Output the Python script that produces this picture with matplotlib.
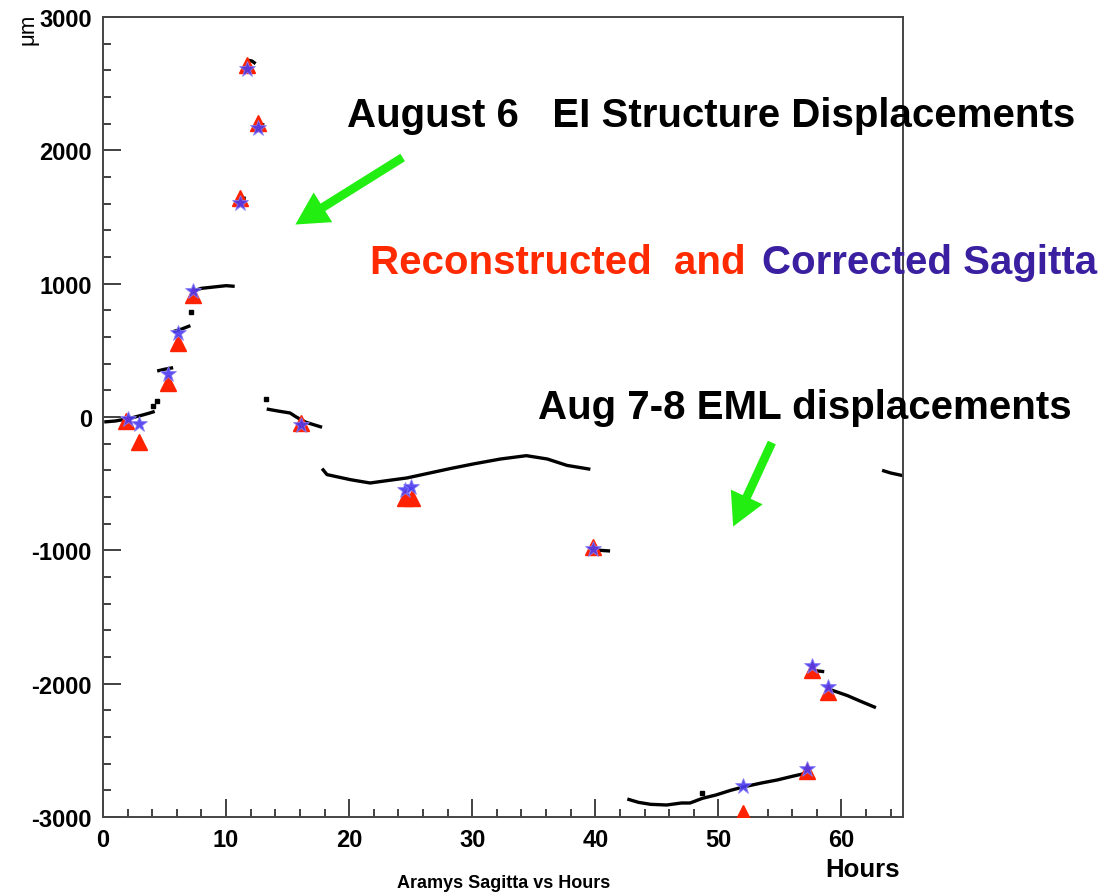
import matplotlib
matplotlib.use("Agg")
import matplotlib.pyplot as plt
from matplotlib.patches import FancyArrowPatch
from matplotlib.ticker import MultipleLocator

plt.rcParams['axes.unicode_minus'] = False

# ---------------- data ----------------
# black monitoring traces (hours, sagitta in micrometres)
seg1_h = [0.1, 1.0, 1.6, 2.4, 3.3, 3.8, 4.2]
seg1_v = [-37, -30, -20, -5, 17, 30, 42]
seg2_h = [4.4, 5.0, 5.7]
seg2_v = [345, 358, 370]
seg3_h = [5.7, 6.4, 7.1]
seg3_v = [640, 660, 685]
seg4_h = [7.3, 8.0, 9.0, 10.0, 10.7]
seg4_v = [945, 965, 975, 985, 980]
seg5_h = [11.0, 11.6]
seg5_v = [1645, 1640]
seg6_h = [11.8, 12.1, 12.4]
seg6_v = [2675, 2670, 2650]
seg7_h = [12.6, 13.1]
seg7_v = [2200, 2190]
seg8_h = [13.3, 14.2, 15.2, 15.7, 16.5, 17.8]
seg8_v = [60, 45, 30, 0, -40, -77]
seg9_h = [17.8, 18.2, 20.1, 21.7, 23.1, 24.7, 26.3, 28.2, 30.1, 32.3, 34.4, 36.1, 37.7, 39.6]
seg9_v = [-387, -432, -470, -495, -477, -457, -425, -387, -352, -315, -290, -315, -363, -392]
seg10_h = [39.6, 40.4, 41.2]
seg10_v = [-990, -1000, -1005]
seg11_h = [42.6, 43.5, 44.5, 45.8, 47.0, 47.7, 48.7, 49.8, 51.0, 52.0, 53.5, 54.8, 56.0, 57.2]
seg11_v = [-2865, -2890, -2905, -2910, -2895, -2895, -2860, -2835, -2800, -2775, -2745, -2722, -2695, -2670]
seg12_h = [57.6, 58.6]
seg12_v = [-1900, -1910]
seg13_h = [59.1, 60.5, 61.5, 62.8]
seg13_v = [-2045, -2090, -2130, -2180]
seg14_h = [63.3, 64.0, 65.0]
seg14_v = [-400, -420, -440]
dots_h = [4.1, 4.4, 7.15, 13.25, 48.7]
dots_v = [82, 120, 785, 135, -2820]

# reconstructed (red triangles) and corrected (blue stars) sagitta
tri_h = [1.9, 2.9, 5.3, 6.1, 7.3, 11.1, 11.7, 12.6, 16.1, 24.5, 25.1, 39.8, 52.0, 57.2, 57.6, 58.9]
tri_v = [-30, -190, 255, 555, 915, 1640, 2640, 2205, -45, -608, -608, -975, -2970, -2655, -1898, -2063]
star_h = [2.0, 2.9, 5.3, 6.1, 7.3, 11.1, 11.7, 12.6, 16.1, 24.5, 25.0, 39.8, 52.0, 57.2, 57.6, 58.9]
star_v = [-15, -50, 320, 630, 945, 1605, 2610, 2170, -60, -548, -525, -990, -2768, -2640, -1868, -2025]

x_ticks = [0, 10, 20, 30, 40, 50, 60]
y_ticks = [-3000, -2000, -1000, 0, 1000, 2000, 3000]

segments = [(seg1_h, seg1_v), (seg2_h, seg2_v), (seg3_h, seg3_v), (seg4_h, seg4_v),
            (seg5_h, seg5_v), (seg6_h, seg6_v), (seg7_h, seg7_v), (seg8_h, seg8_v),
            (seg9_h, seg9_v), (seg10_h, seg10_v), (seg11_h, seg11_v), (seg12_h, seg12_v),
            (seg13_h, seg13_v), (seg14_h, seg14_v)]

# ---------------- figure ----------------
W, H = 1107, 895
fig = plt.figure(figsize=(W / 100, H / 100), dpi=100)
ax = fig.add_axes([103 / W, 1 - 818 / H, 800 / W, 800 / H])

TICKFONT = ['Liberation Sans', 'DejaVu Sans']
BOLDFONT = ['Liberation Sans', 'DejaVu Sans']

for h, v in segments:
    ax.plot(h, v, color='black', lw=2.4, solid_capstyle='butt', zorder=2)
ax.plot(dots_h, dots_v, ls='none', marker='s', ms=2.5, color='black', zorder=2)

ax.plot(tri_h, tri_v, ls='none', marker='^', ms=11, color='#FF2200', mec='#FF2200', zorder=3)
ax.plot(star_h, star_v, ls='none', marker='*', ms=12, color='#4B3BF0', mec='#8A80F5', mew=0.6,
        alpha=0.9, zorder=4)

ax.set_xlim(0, 65)
ax.set_ylim(-3000, 3000)
ax.set_xticks(x_ticks)
ax.set_yticks(y_ticks)
ax.xaxis.set_minor_locator(MultipleLocator(2))
ax.yaxis.set_minor_locator(MultipleLocator(200))
ax.tick_params(which='both', direction='in', top=False, right=False, color='#333333', width=1.3)
ax.tick_params(which='major', length=13, pad=8)
ax.tick_params(which='minor', length=6)
for lab in ax.get_xticklabels() + ax.get_yticklabels():
    lab.set_fontfamily(TICKFONT)
    lab.set_fontweight('bold')
    lab.set_fontsize(17)
for sp in ax.spines.values():
    sp.set_color('#444444')
    sp.set_linewidth(1.4)

def fx(x):
    return x / W

def fy(y):
    return 1 - y / H

# axis titles
fig.text(fx(900), fy(870), 'Hours', ha='right', va='center', fontsize=18.5,
         fontweight='bold', family=TICKFONT)
fig.text(fx(504), fy(884), 'Aramys Sagitta vs Hours', ha='center', va='center', fontsize=13,
         fontweight='bold', family=TICKFONT)
fig.text(fx(28), fy(14), 'μm', ha='center', va='top', rotation=90, fontsize=16,
         family=['Liberation Sans', 'DejaVu Sans'], zorder=0)

# annotations
fig.text(fx(347), fy(116), 'August 6   EI Structure Displacements', ha='left', va='center',
         fontsize=29, fontweight='bold', family=BOLDFONT, color='black')
fig.text(fx(370), fy(263), 'Reconstructed  and ', ha='left', va='center',
         fontsize=29, fontweight='bold', family=BOLDFONT, color='#FF2A00')
fig.text(fx(762), fy(263), 'Corrected Sagitta', ha='left', va='center',
         fontsize=29, fontweight='bold', family=BOLDFONT, color='#3A1FA0')
fig.text(fx(538), fy(408), 'Aug 7-8 EML displacements', ha='left', va='center',
         fontsize=29, fontweight='bold', family=BOLDFONT, color='black')

arrow_style = 'simple,head_length=1.3,head_width=1.4,tail_width=0.35'
for (x0, y0), (x1, y1) in [((405, 157), (293, 227)), ((773, 441), (732, 530))]:
    arr = FancyArrowPatch((fx(x0), fy(y0)), (fx(x1), fy(y1)), transform=fig.transFigure,
                          arrowstyle=arrow_style, mutation_scale=18, color='#22EE11', lw=0)
    fig.patches.append(arr)

fig.savefig('out.png', dpi=100)
